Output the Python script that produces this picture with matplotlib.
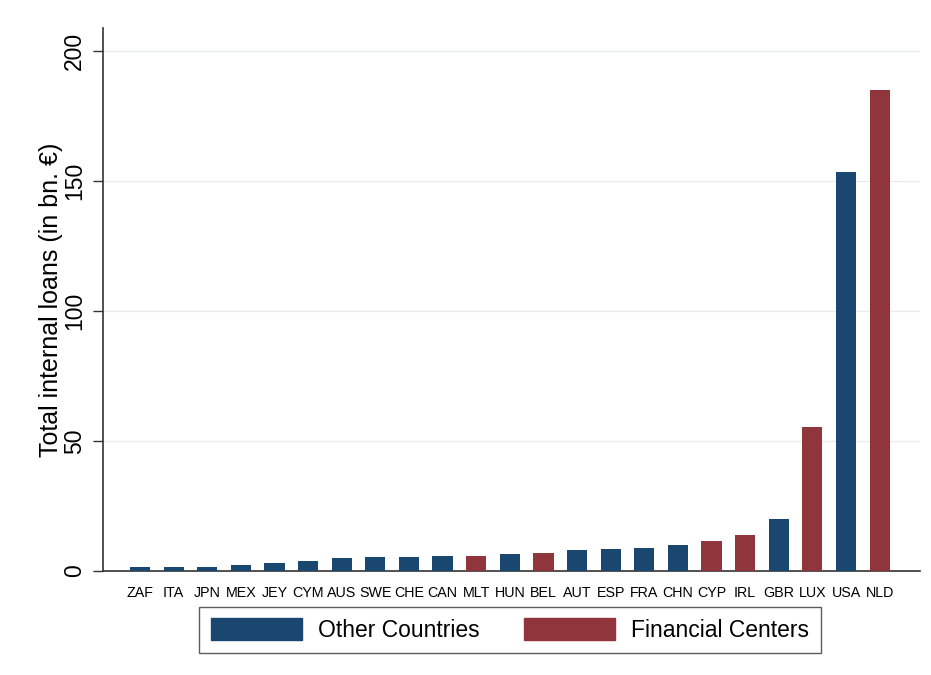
import matplotlib
matplotlib.use("Agg")
import matplotlib.pyplot as plt
from matplotlib.patches import Patch

countries = ["ZAF", "ITA", "JPN", "MEX", "JEY", "CYM", "AUS", "SWE", "CHE", "CAN", "MLT", "HUN",
             "BEL", "AUT", "ESP", "FRA", "CHN", "CYP", "IRL", "GBR", "LUX", "USA", "NLD"]
loans = [1.5, 1.7, 1.7, 2.2, 3.0, 4.0, 5.1, 5.5, 5.5, 5.8, 5.9, 6.4,
         6.8, 8.0, 8.6, 9.0, 9.9, 11.7, 14.0, 20.0, 55.5, 153.4, 185.0]
financial_center = [0, 0, 0, 0, 0, 0, 0, 0, 0, 0, 1, 0,
                    1, 0, 0, 0, 0, 1, 1, 0, 1, 0, 1]
yticks = [0, 50, 100, 150, 200]
legend_labels = ["Other Countries", "Financial Centers"]

BLUE = "#1a476f"
RED = "#90353b"

plt.rcParams['font.family'] = ['Liberation Sans', 'DejaVu Sans']

fig = plt.figure(figsize=(9.31, 6.75), dpi=100)
ax = fig.add_axes([103/931, 1 - 571/675, (920-103)/931, (571-28)/675])

x = list(range(len(countries)))
colors = [RED if f else BLUE for f in financial_center]
ax.bar(x, loans, width=0.6, color=colors, zorder=3)

ax.set_xlim(-1.1, len(countries) - 1 + 1.2)
ax.set_ylim(0, 209)
ax.set_yticks(yticks)
ax.set_yticklabels([str(t) for t in yticks], rotation=90, va='center', fontsize=16.5)
ax.set_xticks(x)
ax.set_xticklabels(countries, fontsize=10.3)
ax.tick_params(axis='x', length=0, pad=11)
ax.tick_params(axis='y', length=7.5, width=1, color='#333333', pad=4.5)
ax.yaxis.grid(True, color='#e8ecef', linewidth=1, zorder=0)
ax.set_axisbelow(True)
for s in ['top', 'right']:
    ax.spines[s].set_visible(False)
for s in ['left', 'bottom']:
    ax.spines[s].set_color('#333333')
    ax.spines[s].set_linewidth(1.2)
ax.set_ylabel("Total internal loans (in bn. €)", fontsize=18, labelpad=0)

handles = [Patch(facecolor=BLUE, edgecolor=BLUE), Patch(facecolor=RED, edgecolor=RED)]
leg = fig.legend(handles, legend_labels, loc='center', bbox_to_anchor=(510/931, 1 - 630/675),
                 ncol=2, fontsize=16.5, frameon=True, fancybox=False, edgecolor='#333333',
                 handlelength=4.0, handleheight=1.1, columnspacing=1.9, handletextpad=0.7,
                 borderpad=0.5)
leg.get_frame().set_linewidth(1.0)

fig.savefig("out.png", dpi=100, facecolor='white')
